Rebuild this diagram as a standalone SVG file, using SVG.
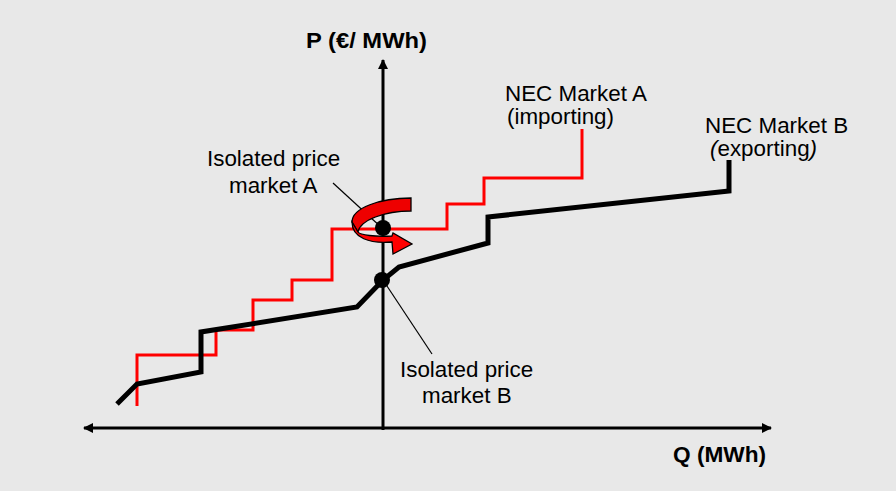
<svg xmlns="http://www.w3.org/2000/svg" width="896" height="491" viewBox="0 0 896 491">
<style>
.t{font-family:"Liberation Sans",Arial,sans-serif;font-size:22.4px;fill:#000}
.b{font-weight:bold;font-size:22.5px}
.axis{stroke:#000;stroke-width:3;fill:none}
.sup{stroke:#000;stroke-width:5;fill:none;stroke-linejoin:miter}
.dem{stroke:#f00;stroke-width:3;fill:none}
.ptr{stroke:#000;stroke-width:1.2;fill:none}
</style>
<defs>
<marker id="ah" viewBox="0 0 10 10" refX="9" refY="5" markerWidth="10" markerHeight="10" markerUnits="userSpaceOnUse" orient="auto"><path d="M0,0 L10,5 L0,10 Z" fill="#000"/></marker>
</defs>
<rect width="896" height="491" fill="#e8e8e8"/>
<g id="connectors">
<path class="axis" d="M383,430 L383,60" marker-end="url(#ah)"/>
<path class="axis" d="M383,428 L771,428" marker-end="url(#ah)"/>
<path class="axis" d="M383,428 L84,428" marker-end="url(#ah)"/>
<path id="nec-a" class="dem" d="M137,406 L137,355 L216,355 L216,330 L253,330 L253,300 L292,300 L292,280 L332,280 L332,229 L447,229 L447,204 L484,204 L484,178 L582,178 L582,129"/>
<path id="nec-b" class="sup" d="M117,404 L137,384 L201,372 L201,332 L357,307 L383,280 L399,267 L488,243 L488,217 L729,191 L729,160"/>
<path class="ptr" d="M333,183 L382,228"/>
<path class="ptr" d="M383,280 L432,354"/>
</g>
<g id="rotation-arrow">
<path d="M411,198 C380,198 352,208 352,222 L358,232 C360,220 385,211 411,211 Z" fill="#e00" stroke="#000" stroke-width="1.3"/>
<circle cx="383" cy="228" r="8" fill="#000"/>
<path d="M352,222 C352,238 370,244 392,242 L393,254 L412,244 L393,233 L392,236 C375,237 360,235 358,232 Z" fill="#f00" stroke="#000" stroke-width="1.3"/>
</g>
<g id="point-b"><circle cx="382" cy="280" r="8" fill="#000"/></g>
<g id="label-p"><text class="t b" x="306" y="48" textLength="121" lengthAdjust="spacingAndGlyphs">P (€/ MWh)</text></g>
<g id="label-q"><text class="t b" x="673" y="462" textLength="93" lengthAdjust="spacingAndGlyphs">Q (MWh)</text></g>
<g id="label-nec-a">
<text class="t" x="505" y="101">NEC Market A</text>
<text class="t" x="507" y="124">(importing)</text>
</g>
<g id="label-nec-b">
<text class="t" x="705" y="133">NEC Market B</text>
<text class="t" x="710" y="156"><tspan font-style="italic">(</tspan>exporting<tspan font-style="italic">)</tspan></text>
</g>
<g id="label-iso-a">
<text class="t" x="207" y="166">Isolated price</text>
<text class="t" x="229" y="193">market A</text>
</g>
<g id="label-iso-b">
<text class="t" x="400" y="377">Isolated price</text>
<text class="t" x="422" y="403">market B</text>
</g>
</svg>
